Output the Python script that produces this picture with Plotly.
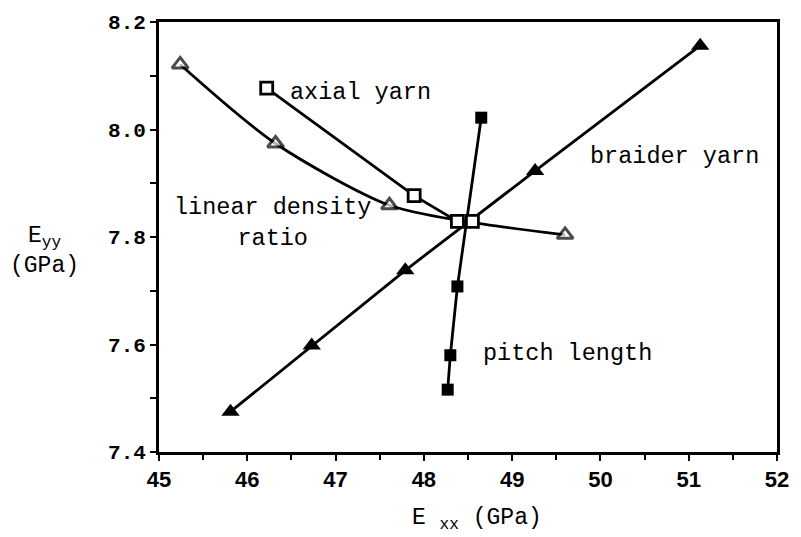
import plotly.graph_objects as go

# Data
braider_x = [45.81, 46.73, 47.79, 49.26, 51.13]
braider_y = [7.475, 7.598, 7.738, 7.923, 8.156]

axial_x = [46.22, 47.89, 48.38, 48.55]
axial_y = [8.077, 7.877, 7.829, 7.829]

pitch_x = [48.27, 48.30, 48.38, 48.65]
pitch_y = [7.516, 7.580, 7.708, 8.022]

linden_x = [45.24, 46.32, 47.61, 48.47, 49.60]
linden_y = [8.121, 7.974, 7.859, 7.829, 7.804]
linden_marker_size = [14, 14, 14, 0, 14]

x_ticks = [45, 46, 47, 48, 49, 50, 51, 52]
y_ticks = [7.4, 7.6, 7.8, 8.0, 8.2]
y_tick_text = ["7.4", "7.6", "7.8", "8.0", "8.2"]

LW = 2.8
mono = "Liberation Mono, Courier New, monospace"
narrow = "Liberation Sans Narrow, Arial Narrow, Liberation Sans, Arial"

fig = go.Figure()
fig.add_trace(go.Scatter(x=braider_x, y=braider_y, mode="lines+markers",
                         line=dict(color="black", width=LW),
                         marker=dict(symbol="triangle-up", size=16, color="black")))
fig.add_trace(go.Scatter(x=linden_x, y=linden_y, mode="lines+markers",
                         line=dict(color="black", width=LW, shape="spline", smoothing=0.8),
                         marker=dict(symbol="triangle-up", size=linden_marker_size,
                                     color="white", line=dict(width=3, color="black"))))
fig.add_trace(go.Scatter(x=pitch_x, y=pitch_y, mode="lines+markers",
                         line=dict(color="black", width=LW),
                         marker=dict(symbol="square", size=12, color="black")))
fig.add_trace(go.Scatter(x=axial_x, y=axial_y, mode="lines+markers",
                         line=dict(color="black", width=LW),
                         marker=dict(symbol="square", size=12, color="white",
                                     line=dict(width=2.8, color="black"))))

ann_font = dict(family=mono, size=23.5, color="black")
fig.add_annotation(x=46.46, y=8.068, text="axial yarn", showarrow=False,
                   xanchor="left", yanchor="middle", font=ann_font)
fig.add_annotation(x=49.86, y=7.950, text="braider yarn", showarrow=False,
                   xanchor="left", yanchor="middle", font=ann_font)
fig.add_annotation(x=46.29, y=7.826, text="linear density<br>ratio", showarrow=False,
                   xanchor="center", yanchor="middle", align="center", font=ann_font)
fig.add_annotation(x=48.65, y=7.583, text="pitch length", showarrow=False,
                   xanchor="left", yanchor="middle", font=ann_font)

# axis titles
fig.add_annotation(x=0.514, y=-0.118, xref="paper", yref="paper",
                   text="E <sub>xx</sub> (GPa)", showarrow=False,
                   xanchor="center", yanchor="top",
                   font=dict(family=mono, size=23, color="black"))
fig.add_annotation(x=-0.185, y=0.468, xref="paper", yref="paper",
                   text="E<sub>yy</sub><br>(GPa)", showarrow=False,
                   xanchor="center", yanchor="middle", align="center",
                   font=dict(family=mono, size=23, color="black"))

fig.update_xaxes(range=[45, 52], tickvals=x_ticks, ticks="outside", ticklen=6,
                 tickwidth=2, tickcolor="black", showline=True, linewidth=2.8,
                 linecolor="black", mirror=True, showgrid=False, zeroline=False,
                 tickfont=dict(family=narrow, size=22, color="black", weight="bold"),
                 minor=dict(dtick=0.5, ticks="outside", ticklen=5, tickwidth=2,
                            tickcolor="black", showgrid=False))
fig.update_yaxes(range=[7.4, 8.2], tickvals=y_ticks, ticktext=y_tick_text,
                 ticks="outside", ticklen=6, tickwidth=2, tickcolor="black",
                 showline=True, linewidth=2.8, linecolor="black", mirror=True,
                 showgrid=False, zeroline=False,
                 tickfont=dict(family=mono, size=21, color="black", weight="bold"),
                 minor=dict(dtick=0.1, ticks="outside", ticklen=6, tickwidth=2,
                            tickcolor="black", showgrid=False))

fig.update_layout(width=801, height=537, showlegend=False,
                  margin=dict(l=159, r=14, t=16, b=85),
                  paper_bgcolor="white", plot_bgcolor="white")

fig.write_html("out.html")
